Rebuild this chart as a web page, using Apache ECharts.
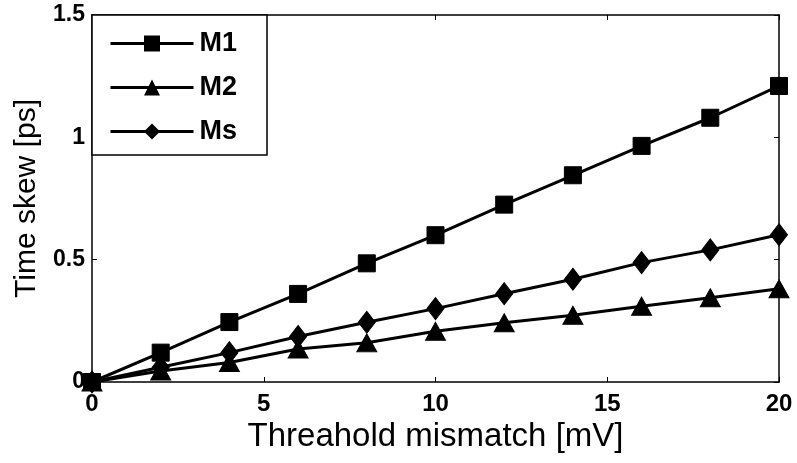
<!DOCTYPE html>
<html>
<head>
<meta charset="utf-8">
<script src="https://cdn.jsdelivr.net/npm/echarts@6/dist/echarts.min.js"></script>
<style>
  html, body { margin: 0; padding: 0; background: #fff; }
  #chart { width: 797px; height: 463px; }
</style>
</head>
<body>
<div id="chart"></div>
<script>
// Threshold mismatch (mV) on the x axis
const mismatch = [0, 2, 4, 6, 8, 10, 12, 14, 16, 18, 20];
// Time skew (ps) for each configuration
const m1 = [0, 0.12, 0.245, 0.36, 0.485, 0.6, 0.725, 0.845, 0.965, 1.08, 1.21];
const m2 = [0, 0.045, 0.08, 0.135, 0.16, 0.207, 0.242, 0.273, 0.31, 0.344, 0.381];
const ms = [0, 0.06, 0.12, 0.186, 0.244, 0.3, 0.361, 0.42, 0.488, 0.54, 0.602];
const seriesNames = ['M1', 'M2', 'Ms'];
const xTicks = [0, 5, 10, 15, 20];
const yTicks = [0, 0.5, 1, 1.5];

const FONT = 'Liberation Sans, Arial, sans-serif';
const pair = (ys) => mismatch.map((x, i) => [x, ys[i]]);

const fmtY = (v) => (yTicks.includes(v) ? String(v) : '');
const fmtX = (v) => (xTicks.includes(v) ? String(v) : '');

const axisBase = {
  axisLine: { show: true, onZero: false, lineStyle: { color: '#000', width: 1.5 } },
  axisTick: { show: true, inside: true, length: 5, lineStyle: { color: '#000', width: 1 } },
  splitLine: { show: false }
};

const chart = echarts.init(document.getElementById('chart'), null, { renderer: 'canvas' });
chart.setOption({
  animation: false,
  backgroundColor: '#fff',
  grid: { left: 92, right: 18, top: 15, bottom: 81, containLabel: false },
  legend: {
    data: seriesNames,
    orient: 'vertical',
    left: 92,
    top: 15,
    padding: [15, 30, 10, 17],
    itemWidth: 83,
    itemHeight: 20,
    itemGap: 17,
    backgroundColor: '#fff',
    borderColor: '#000',
    borderWidth: 1.5,
    lineStyle: { width: 3, color: '#000' },
    textStyle: { fontFamily: FONT, fontSize: 27, fontWeight: 'bold', color: '#000', lineHeight: 22, padding: [0, 0, 0, 1] }
  },
  xAxis: [
    Object.assign({}, axisBase, {
      type: 'value', min: 0, max: 20, interval: 5, position: 'bottom',
      name: 'Threahold mismatch [mV]', nameLocation: 'middle', nameGap: 32,
      nameTextStyle: { fontFamily: FONT, fontSize: 33, color: '#000' },
      axisLabel: { fontFamily: FONT, fontSize: 24, fontWeight: 'bold', color: '#000', margin: 10, formatter: fmtX }
    }),
    Object.assign({}, axisBase, {
      type: 'value', min: 0, max: 20, interval: 5, position: 'top',
      axisLabel: { show: false }
    })
  ],
  yAxis: [
    Object.assign({}, axisBase, {
      type: 'value', min: 0, max: 1.5, interval: 0.5, position: 'left',
      name: 'Time skew [ps]', nameLocation: 'middle', nameGap: 50,
      nameTextStyle: { fontFamily: FONT, fontSize: 30, color: '#000' },
      axisLabel: { fontFamily: FONT, fontSize: 23, fontWeight: 'bold', color: '#000', margin: 7, formatter: fmtY }
    }),
    Object.assign({}, axisBase, {
      type: 'value', min: 0, max: 1.5, interval: 0.5, position: 'right',
      axisLabel: { show: false }
    })
  ],
  series: [
    {
      name: 'M1', type: 'line', data: pair(m1),
      symbol: 'rect', symbolSize: 17,
      lineStyle: { color: '#000', width: 3 },
      itemStyle: { color: '#000', borderColor: '#000' }
    },
    {
      name: 'M2', type: 'line', data: pair(m2),
      symbol: 'triangle', symbolSize: [20, 18],
      lineStyle: { color: '#000', width: 3 },
      itemStyle: { color: '#000', borderColor: '#000' }
    },
    {
      name: 'Ms', type: 'line', data: pair(ms),
      symbol: 'diamond', symbolSize: [17, 22],
      lineStyle: { color: '#000', width: 3 },
      itemStyle: { color: '#000', borderColor: '#000' }
    }
  ]
});
</script>
</body>
</html>
